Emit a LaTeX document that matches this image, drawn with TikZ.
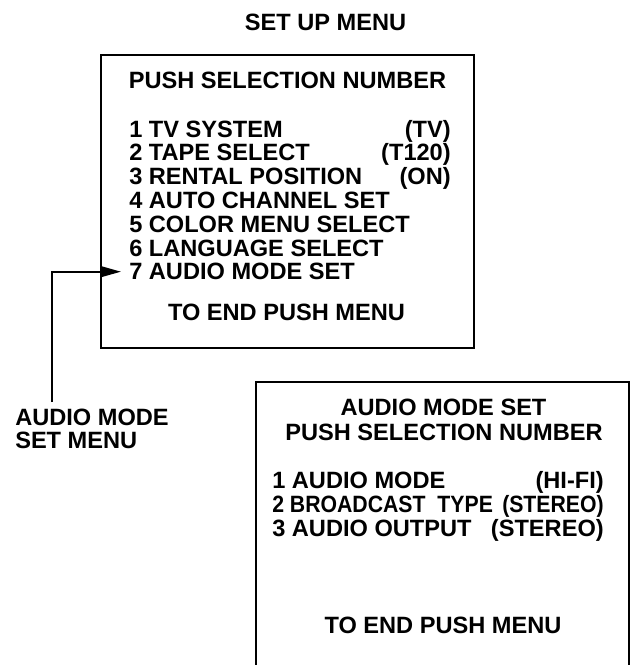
\documentclass[tikz,border=0pt]{standalone}
\usepackage{fontspec}
\setmainfont{Liberation Sans}
\usetikzlibrary{arrows.meta}
\begin{document}
\begin{tikzpicture}[x=0.75pt,y=-0.75pt,
  txt/.style={inner sep=0pt, font=\fontsize{17.7}{17.25}\selectfont\bfseries},
  menubox/.style={draw, line width=1.5pt, inner sep=0pt},
  leader/.style={line width=1.5pt, -{Triangle[length=15pt,width=8pt]}}]
\clip (0,0) rectangle (631,665);
\node[txt, anchor=base] (title) at (325.5,30) {SET UP MENU};
% first menu
\node[menubox, minimum width=279.75pt, minimum height=219.75pt] (box1) at (287.5,201.5) {};
\node[txt, anchor=base] (h1) at (287.5,88) {PUSH SELECTION NUMBER};
\node[txt, anchor=base west] (i1) at (129,137) {1 TV SYSTEM};
\node[txt, anchor=base east] (v1) at (451,137) {(TV)};
\node[txt, anchor=base west] (i2) at (129,160.8) {2 TAPE SELECT};
\node[txt, anchor=base east] (v2) at (451,160.8) {(T120)};
\node[txt, anchor=base west] (i3) at (129,184.6) {3 RENTAL POSITION};
\node[txt, anchor=base east] (v3) at (451,184.6) {(ON)};
\node[txt, anchor=base west] (i4) at (129,208.4) {4 AUTO CHANNEL SET};
\node[txt, anchor=base west] (i5) at (129,232.2) {5 COLOR MENU SELECT};
\node[txt, anchor=base west] (i6) at (129,256) {6 LANGUAGE SELECT};
\node[txt, anchor=base west] (i7) at (129,279.8) {7 AUDIO MODE SET};
\node[txt, anchor=base] (e1) at (286.5,320) {TO END PUSH MENU};
% second menu
\node[menubox, minimum width=280.1pt, minimum height=219.75pt] (box2) at (442.75,528.5) {};
\node[txt, anchor=base] (h2a) at (443.5,415) {AUDIO MODE SET};
\node[txt, anchor=base] (h2b) at (444,440) {PUSH SELECTION NUMBER};
\node[txt, anchor=base west] (j1) at (272,488) {1 AUDIO MODE};
\node[txt, anchor=base east] (w1) at (604,488) {(HI-FI)};
\node[txt, anchor=base west] (j2) at (272,512) {\scalebox{0.9}[1]{2 BROADCAST\ \ TYPE}};
\node[txt, anchor=base east] (w2) at (604,512) {\scalebox{0.9}[1]{(STEREO)}};
\node[txt, anchor=base west] (j3) at (272,536) {3 AUDIO OUTPUT};
\node[txt, anchor=base east] (w3) at (604,536) {(STEREO)};
\node[txt, anchor=base] (e2) at (443,633) {TO END PUSH MENU};
% label and leader
\node[txt, anchor=north west, align=left] (lab) at (15,409) {AUDIO MODE\\SET MENU};
\coordinate (ls) at (52,402);
\draw[leader] (ls) |- ([xshift=-6pt]i7.west);
\end{tikzpicture}
\end{document}
